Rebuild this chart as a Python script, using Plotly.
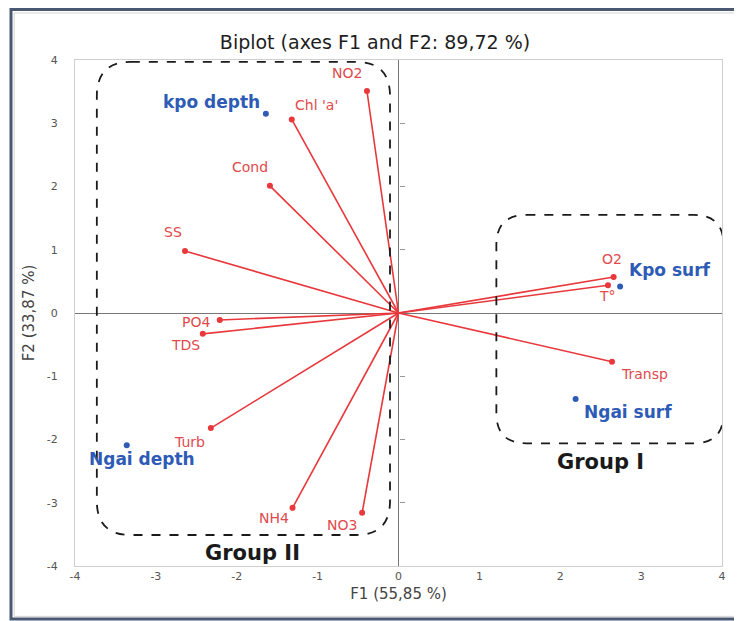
import plotly.graph_objects as go

# Variables (red vectors)
var_names = ["NO2", "Chl 'a'", "Cond", "SS", "PO4", "TDS", "Turb", "NH4", "NO3", "O2", "T°", "Transp"]
var_f1 = [-0.39, -1.32, -1.59, -2.64, -2.21, -2.42, -2.32, -1.31, -0.45, 2.66, 2.59, 2.64]
var_f2 = [3.51, 3.06, 2.01, 0.98, -0.11, -0.33, -1.82, -3.08, -3.16, 0.57, 0.44, -0.77]

# Observations (blue points)
obs_names = ["kpo depth", "Kpo surf", "Ngai surf", "Ngai depth"]
obs_f1 = [-1.64, 2.74, 2.19, -3.36]
obs_f2 = [3.15, 0.42, -1.36, -2.09]

# Axis ticks
tick_vals = [-4, -3, -2, -1, 0, 1, 2, 3, 4]
tick_text = ["-4", "-3", "-2", "-1", "0", "1", "2", "3", "4"]

# Groups (box extents in F1/F2 units)
groups = {
    "Group II": dict(x0=-3.73, x1=-0.105, y0=-3.51, y1=3.97),
    "Group I": dict(x0=1.21, x1=4.02, y0=-2.06, y1=1.55),
}

RED = "#e8383c"
RED_TXT = "#e04a4c"
BLUE = "#2d5bb5"
FONT = "DejaVu Sans"

# label pixel offsets (style/position, not data)
var_off = {
    "NO2": (-20, 18), "Chl 'a'": (25, 14), "Cond": (-20, 19), "SS": (-12, 19),
    "PO4": (-24, -2), "TDS": (-17, -11), "Turb": (-21, -14), "NH4": (-19, -10),
    "NO3": (-20, -12), "O2": (-2, 18), "T°": (0, -11), "Transp": (32, -12),
}
obs_off = {
    "kpo depth": (-54, 12), "Kpo surf": (50, 16), "Ngai surf": (52, -13), "Ngai depth": (15, -14),
}

fig = go.Figure()

for n, x, y in zip(var_names, var_f1, var_f2):
    fig.add_trace(go.Scatter(x=[0, x], y=[0, y], mode="lines",
                             line=dict(color=RED, width=1.6), hoverinfo="skip", showlegend=False))
fig.add_trace(go.Scatter(x=var_f1, y=var_f2, mode="markers",
                         marker=dict(color=RED, size=6), showlegend=False, text=var_names))
fig.add_trace(go.Scatter(x=obs_f1, y=obs_f2, mode="markers",
                         marker=dict(color=BLUE, size=6), showlegend=False, text=obs_names))
fig.add_trace(go.Scatter(x=[0], y=[0], yaxis="y2", mode="markers",
                         marker=dict(opacity=0), hoverinfo="skip", showlegend=False))

for n, x, y in zip(var_names, var_f1, var_f2):
    dx, dy = var_off[n]
    fig.add_annotation(x=x, y=y, text=n, showarrow=False, xshift=dx, yshift=dy,
                       font=dict(family=FONT, size=14, color=RED_TXT))
for n, x, y in zip(obs_names, obs_f1, obs_f2):
    dx, dy = obs_off[n]
    fig.add_annotation(x=x, y=y, text="<b>" + n + "</b>", showarrow=False, xshift=dx, yshift=dy,
                       font=dict(family=FONT, size=17, color=BLUE))

def rounded_path(x0, x1, y0, y1, rx, ry):
    return (f"M {x0+rx},{y1} L {x1-rx},{y1} Q {x1},{y1} {x1},{y1-ry} "
            f"L {x1},{y0+ry} Q {x1},{y0} {x1-rx},{y0} "
            f"L {x0+rx},{y0} Q {x0},{y0} {x0},{y0+ry} "
            f"L {x0},{y1-ry} Q {x0},{y1} {x0+rx},{y1} Z")

for name, g in groups.items():
    r_px = 34 if name == "Group II" else 30
    fig.add_shape(type="path", xref="x", yref="y",
                  path=rounded_path(g["x0"], g["x1"], g["y0"], g["y1"], r_px / 80.9, r_px / 63.25),
                  line=dict(color="#1a1a1a", width=1.8, dash="dash"))

fig.add_annotation(x=(groups["Group I"]["x0"] + groups["Group I"]["x1"]) / 2, xshift=-9,
                   y=groups["Group I"]["y0"], yshift=-19, text="<b>Group I</b>", showarrow=False,
                   font=dict(family=FONT, size=21, color="#1a1a1a"))
fig.add_annotation(x=(groups["Group II"]["x0"] + groups["Group II"]["x1"]) / 2, xshift=9,
                   y=groups["Group II"]["y0"], yshift=-18, text="<b>Group II</b>", showarrow=False,
                   font=dict(family=FONT, size=21, color="#1a1a1a"))

# outer border
fig.add_shape(type="rect", xref="paper", yref="paper", x0=-0.0989, x1=1.0278, y0=-0.1047, y1=1.0998,
              line=dict(color="#4a5872", width=3))
fig.add_shape(type="rect", xref="paper", yref="paper", x0=-0.094, x1=1.023, y0=-0.0995, y1=1.093,
              line=dict(color="#d4d4d4", width=1))

fig.update_layout(
    width=734, height=613,
    margin=dict(l=67, r=20, t=52, b=55),
    paper_bgcolor="white", plot_bgcolor="white",
    title=dict(text="Biplot (axes F1 and F2: 89,72 %)", x=0.5, xanchor="center",
               y=1 - 34 / 613, yanchor="middle",
               font=dict(family=FONT, size=19, color="#1e1e1e")),
    xaxis=dict(range=[-4, 4], tickvals=tick_vals, ticktext=tick_text, showgrid=False,
               zeroline=True, zerolinecolor="#777", zerolinewidth=1,
               showline=True, mirror=True, linecolor="#cfcfcf", linewidth=1,
               ticks="", tickfont=dict(family=FONT, size=11, color="#555"),
               title=dict(text="F1 (55,85 %)", standoff=6,
                          font=dict(family=FONT, size=15, color="#444"))),
    yaxis=dict(range=[-4, 4], tickvals=tick_vals, ticktext=tick_text, showgrid=False,
               zeroline=True, zerolinecolor="#777", zerolinewidth=1,
               showline=True, mirror=True, linecolor="#cfcfcf", linewidth=1,
               ticks="", ticklabelstandoff=14,
               tickfont=dict(family=FONT, size=11, color="#555"),
               title=dict(text="F2 (33,87 %)", standoff=8,
                          font=dict(family=FONT, size=15, color="#444"))),
    yaxis2=dict(range=[-4, 4], overlaying="y", anchor="free", position=0.5, side="right",
                tickvals=[-3, -2, -1, 1, 2, 3], showticklabels=False, ticks="outside",
                ticklen=5, tickcolor="#999", showgrid=False, zeroline=False, showline=False),
)

fig.write_html("out.html")
